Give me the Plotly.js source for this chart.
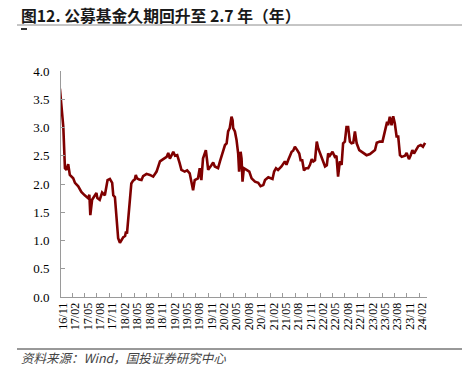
<!DOCTYPE html>
<html>
<head>
<meta charset="utf-8">
<script src="https://cdn.plot.ly/plotly-3.0.1.min.js"></script>
<style>html,body{margin:0;padding:0;background:#fff;}#chart{width:462px;height:376px;}</style>
</head>
<body>
<div id="chart"></div>
<script>
// ---- data ----
const dates = [
"2016-10-09","2016-11-03","2016-11-15","2016-11-26","2016-12-09","2016-12-21","2017-01-15","2017-01-28",
"2017-02-21","2017-03-16","2017-04-10","2017-05-04","2017-05-14","2017-05-21","2017-06-03","2017-06-17",
"2017-07-05","2017-07-12","2017-07-29","2017-08-16","2017-09-05","2017-09-25","2017-10-12","2017-10-29",
"2017-11-06","2017-11-18","2017-12-01","2017-12-12","2017-12-25","2018-01-07","2018-01-19","2018-02-01",
"2018-02-08","2018-02-15","2018-02-25","2018-03-19","2018-04-01","2018-04-13","2018-04-21","2018-04-30",
"2018-05-16","2018-06-02","2018-06-14","2018-07-09","2018-08-03","2018-08-27","2018-09-21","2018-10-16",
"2018-11-09","2018-12-04","2018-12-16","2018-12-28","2019-01-10","2019-01-22","2019-02-04","2019-02-20",
"2019-03-10","2019-03-23","2019-04-16","2019-05-04","2019-05-23","2019-06-17","2019-06-29","2019-07-23",
"2019-08-05","2019-08-17","2019-08-29","2019-09-19","2019-09-28","2019-10-06","2019-11-01","2019-11-12",
"2019-11-24","2019-12-18","2020-01-01","2020-01-13","2020-01-25","2020-02-07","2020-02-19","2020-03-01",
"2020-03-13","2020-03-26","2020-04-03","2020-04-07","2020-04-20","2020-05-02","2020-05-14","2020-05-21",
"2020-06-01","2020-06-08","2020-06-15","2020-06-25","2020-07-15","2020-08-04","2020-08-21","2020-09-15",
"2020-10-09","2020-10-26","2020-11-15","2020-11-28","2020-12-22","2021-01-09","2021-01-22","2021-02-03",
"2021-02-17","2021-03-04","2021-03-29","2021-04-23","2021-05-05","2021-05-17","2021-05-30","2021-06-12",
"2021-06-23","2021-07-06","2021-07-23","2021-08-07","2021-08-17","2021-08-29","2021-09-11","2021-09-26",
"2021-10-12","2021-10-25","2021-11-07","2021-11-19","2021-12-01","2021-12-14","2021-12-25","2022-01-07",
"2022-02-01","2022-02-13","2022-02-26","2022-03-08","2022-03-20","2022-04-09","2022-04-26","2022-05-08",
"2022-05-20","2022-06-02","2022-06-15","2022-06-26","2022-07-09","2022-07-21","2022-08-02","2022-08-15",
"2022-08-27","2022-09-09","2022-09-21","2022-10-04","2022-10-23","2022-11-10","2022-12-04","2022-12-16",
"2023-01-10","2023-02-04","2023-02-16","2023-03-01","2023-03-23","2023-04-12","2023-04-22","2023-05-07",
"2023-05-16","2023-05-23","2023-06-05","2023-06-18","2023-06-30","2023-07-12","2023-07-25","2023-08-06",
"2023-08-19","2023-09-01","2023-09-25","2023-10-07","2023-10-24","2023-11-06","2023-11-18","2023-11-30",
"2023-12-15","2024-01-01","2024-01-19","2024-02-04","2024-02-20"
];
const duration = [
3.69,3.01,2.28,2.25,2.35,2.16,2.10,2.02,
1.96,1.86,1.80,1.75,1.81,1.45,1.72,1.77,
1.84,1.75,1.72,1.85,1.80,2.07,2.09,2.02,
1.80,1.77,1.36,1.04,0.96,1.01,1.06,1.08,
1.16,1.12,1.42,2.01,2.06,2.08,2.16,2.10,
2.08,2.07,2.14,2.18,2.16,2.13,2.22,2.40,
2.44,2.48,2.55,2.45,2.51,2.57,2.50,2.51,
2.37,2.25,2.22,2.24,2.19,1.89,2.07,2.10,
2.28,2.07,2.45,2.60,2.42,2.25,2.34,2.38,
2.31,2.28,2.40,2.51,2.60,2.69,2.72,2.93,
2.99,3.19,3.13,2.99,2.93,2.78,2.54,2.22,
2.57,2.45,2.04,2.28,2.25,2.22,2.10,2.04,
2.02,1.96,1.98,2.07,2.12,2.10,2.09,2.22,
2.28,2.25,2.31,2.40,2.34,2.42,2.51,2.57,
2.59,2.66,2.60,2.54,2.42,2.42,2.24,2.28,
2.28,2.34,2.44,2.40,2.42,2.75,2.63,2.54,
2.37,2.31,2.33,2.54,2.50,2.57,2.48,2.50,
2.13,2.40,2.34,2.72,2.75,3.01,3.01,2.75,
2.72,2.73,2.93,2.72,2.60,2.57,2.54,2.51,
2.53,2.57,2.60,2.73,2.75,2.75,2.87,3.01,
3.10,3.04,3.19,3.04,3.20,3.07,2.84,2.84,
2.51,2.48,2.50,2.55,2.44,2.51,2.60,2.54,
2.61,2.67,2.69,2.66,2.73
];
const tickDates = ["2016-11-01","2017-02-01","2017-05-01","2017-08-01","2017-11-01","2018-02-01","2018-05-01","2018-08-01",
"2018-11-01","2019-02-01","2019-05-01","2019-08-01","2019-11-01","2020-02-01","2020-05-01","2020-08-01",
"2020-11-01","2021-02-01","2021-05-01","2021-08-01","2021-11-01","2022-02-01","2022-05-01","2022-08-01",
"2022-11-01","2023-02-01","2023-05-01","2023-08-01","2023-11-01","2024-02-01"];
const tickLabels = ["16/11","17/02","17/05","17/08","17/11","18/02","18/05","18/08",
"18/11","19/02","19/05","19/08","19/11","20/02","20/05","20/08",
"20/11","21/02","21/05","21/08","21/11","22/02","22/05","22/08",
"22/11","23/02","23/05","23/08","23/11","24/02"];
const titleText = "图12. 公募基金久期回升至 2.7 年（年）";
const sourceText = "资料来源：Wind，国投证券研究中心";

// ---- layout geometry (pixels) ----
const W = 462, H = 376;
const L = 61, R = 427, T = 71, B = 297;
const px = x => (x - L) / (R - L);
const py = y => (B - y) / (B - T);

// minor tick marks sit between label positions (offset ~67 days)
const minorTicks = tickDates.map(d => {
  const t = new Date(d + "T00:00:00Z");
  t.setUTCDate(t.getUTCDate() + 67);
  return t.toISOString().slice(0, 10);
});

const trace = {
  x: dates, y: duration, type: "scatter", mode: "lines",
  line: {color: "#7f0000", width: 2.6, shape: "linear"},
  hoverinfo: "skip"
};

const serif = "Liberation Serif, Times New Roman, serif";
const layout = {
  width: W, height: H,
  margin: {l: L, r: W - R, t: T, b: H - B, pad: 0},
  paper_bgcolor: "#fff", plot_bgcolor: "#fff",
  showlegend: false,
  xaxis: {
    type: "date",
    range: ["2016-10-17", "2024-03-05"],
    tickmode: "array", tickvals: tickDates, ticktext: tickLabels,
    tickangle: -90, ticks: "",
    tickfont: {family: serif, size: 12, color: "#000"},
    showgrid: false, zeroline: false,
    showline: true, linecolor: "#9a9a9a", linewidth: 1,
    minor: {tickmode: "array", tickvals: minorTicks, ticks: "inside", ticklen: 4, tickcolor: "#9a9a9a", tickwidth: 1, showgrid: false},
    fixedrange: true
  },
  yaxis: {
    range: [0, 4], tickmode: "linear", tick0: 0, dtick: 0.5, tickformat: ".1f",
    ticks: "inside", ticklen: 4, tickcolor: "#9a9a9a",
    tickfont: {family: serif, size: 13, color: "#000"},
    showgrid: false, zeroline: false,
    showline: true, linecolor: "#9a9a9a", linewidth: 1,
    ticklabelstandoff: 8,
    fixedrange: true
  },
  annotations: [
    {text: "<b>" + titleText + "</b>", xref: "paper", yref: "paper", x: px(19), y: py(15),
     xanchor: "left", yanchor: "middle", showarrow: false,
     font: {family: "Noto Sans CJK SC, sans-serif", size: 15.8, color: "#1a1a1a"}},
    {text: "<i>" + sourceText + "</i>", xref: "paper", yref: "paper", x: px(19), y: py(357),
     xanchor: "left", yanchor: "middle", showarrow: false,
     font: {family: "Noto Sans CJK SC, sans-serif", size: 12.5, color: "#444"}}
  ],
  shapes: [
    {type: "line", xref: "paper", yref: "paper", x0: px(17), x1: px(W), y0: py(25), y1: py(25),
     line: {color: "#8c8c8c", width: 1}},
    {type: "line", xref: "paper", yref: "paper", x0: px(21), x1: px(27), y0: py(29), y1: py(29),
     line: {color: "#333", width: 2}},
    {type: "line", xref: "paper", yref: "paper", x0: px(17), x1: px(W), y0: py(349), y1: py(349),
     line: {color: "#333", width: 1}}
  ]
};

Plotly.newPlot("chart", [trace], layout, {displayModeBar: false, staticPlot: true});
</script>
</body>
</html>
